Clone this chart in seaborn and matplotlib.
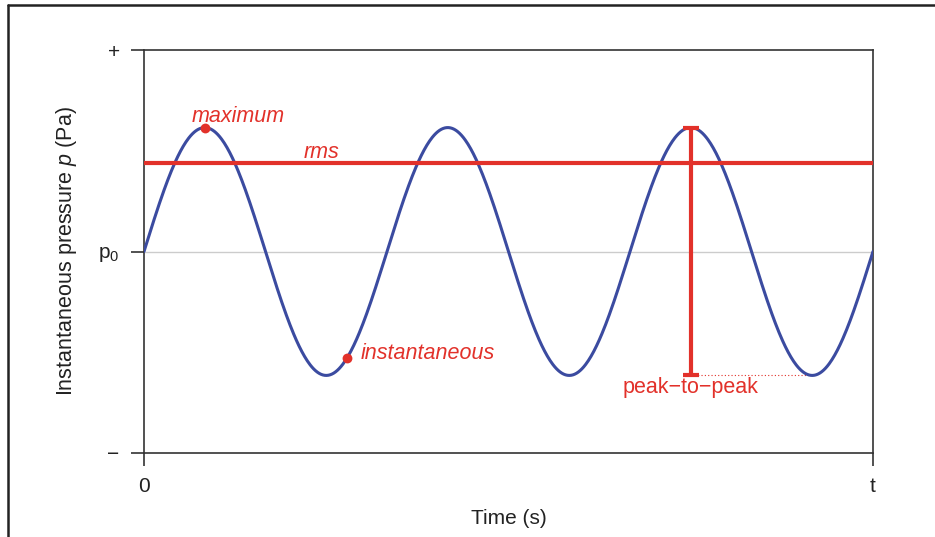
import numpy as np
import pandas as pd
import matplotlib
matplotlib.use("Agg")
import matplotlib.pyplot as plt
from matplotlib.lines import Line2D
import seaborn as sns

# schematic sound-pressure wave
cycles = 3                 # full periods shown between 0 and t
amplitude = 0.615          # peak, as fraction of the axis half-height
rms_level = 0.437          # rms line
max_time = 0.25            # where the "maximum" dot sits
inst_time = 0.835          # where the "instantaneous" dot sits
p2p_time = 2.25            # x of the peak-to-peak bar
p2p_trough = 2.75          # trough the dotted guide runs to

y_ticks = [-1, 0, 1]
y_ticklabels = ["\u2212", "p$_{\\mathregular{0}}$", "+"]
x_ticks = [0, cycles]
x_ticklabels = ["0", "t"]

RED = "#E2312A"
BLUE = "#3B4BA0"

sns.set_style("ticks")
plt.rcParams["font.family"] = ["Liberation Sans", "DejaVu Sans"]
plt.rcParams["mathtext.fontset"] = "custom"
plt.rcParams["mathtext.rm"] = "Liberation Sans"
plt.rcParams["mathtext.it"] = "Liberation Sans:italic"

t = np.linspace(0, cycles, 800)
wave = pd.DataFrame({"time": t, "pressure": amplitude * np.sin(2 * np.pi * t)})

fig = plt.figure(figsize=(9.35, 5.37), dpi=100)
ax = fig.add_axes([144 / 935, 1 - 453 / 537, (873 - 144) / 935, (453 - 50) / 537])

ax.axhline(0, color="#cccccc", lw=1, zorder=1)
sns.lineplot(data=wave, x="time", y="pressure", color=BLUE, lw=2.2, ax=ax, zorder=3)

# rms level
ax.axhline(rms_level, color=RED, lw=3, zorder=4)

# peak-to-peak bar with caps, plus dotted guide to the trough
ax.errorbar([p2p_time], [0], yerr=[[amplitude], [amplitude]], fmt="none",
            ecolor=RED, elinewidth=3, capsize=6, capthick=3, zorder=5)
ax.plot([p2p_time, p2p_trough], [-amplitude, -amplitude], color=RED,
        lw=0.8, ls=(0, (1, 2)), zorder=2)

# marked points on the curve
pts_t = [max_time, inst_time]
pts_y = [amplitude * np.sin(2 * np.pi * v) for v in pts_t]
ax.scatter(pts_t, pts_y, s=50, color=RED, zorder=6, linewidths=0)

ax.text(0.198, 0.672, "maximum", color=RED, style="italic", fontsize=15.5,
        ha="left", va="center")
ax.text(0.658, 0.489, "rms", color=RED, style="italic", fontsize=15.5,
        ha="left", va="center")
ax.text(0.893, -0.504, "instantaneous", color=RED, style="italic", fontsize=15.5,
        ha="left", va="center")
ax.text(1.971, -0.677, "peak\u2212to\u2212peak", color=RED, fontsize=15.5,
        ha="left", va="center")

ax.set_xlim(0, cycles)
ax.set_ylim(-1, 1)
ax.set_xticks(x_ticks)
ax.set_xticklabels(x_ticklabels)
ax.set_yticks(y_ticks)
ax.set_yticklabels(y_ticklabels)
ax.tick_params(axis="both", direction="out", length=9.5, width=1.2,
               color="#333333", labelsize=15, pad=8, labelcolor="#222222",
               bottom=True, left=True)

for s in ax.spines.values():
    s.set_color("#333333")
    s.set_linewidth(1.2)

ax.set_xlabel("Time (s)", fontsize=15, labelpad=9, color="#222222")
ax.set_ylabel("Instantaneous pressure $p$ (Pa)", fontsize=15.5, labelpad=14,
              color="#222222")

# frame around the figure (top and left edges visible in the reference)
fig.add_artist(Line2D([8 / 935, 1], [1 - 5 / 537, 1 - 5 / 537],
                      transform=fig.transFigure, color="#222222", lw=1.8))
fig.add_artist(Line2D([8 / 935, 8 / 935], [0, 1 - 5 / 537],
                      transform=fig.transFigure, color="#222222", lw=1.8))

fig.savefig("out.png", dpi=100)
